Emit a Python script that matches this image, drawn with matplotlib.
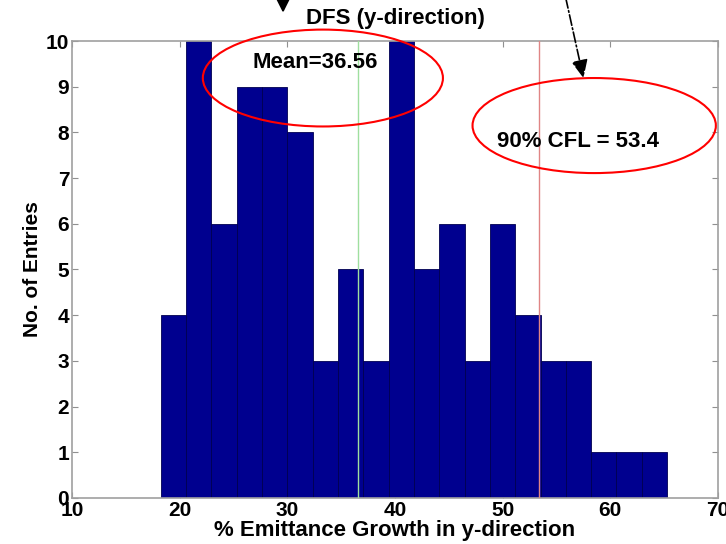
import matplotlib.pyplot as plt
import numpy as np
from matplotlib.patches import Ellipse

plt.rcParams['font.family'] = ['Liberation Sans', 'DejaVu Sans']
plt.rcParams['font.weight'] = 'bold'

# histogram data (20 bins between min and max of the sample)
x_min = 18.24
x_max = 65.27
counts = [4, 10, 6, 9, 9, 8, 3, 5, 3, 10, 5, 6, 3, 6, 4, 3, 3, 1, 1, 1]
mean_val = 36.56
cfl_val = 53.4

edges = np.linspace(x_min, x_max, len(counts) + 1)

fig = plt.figure(figsize=(7.26, 5.44), dpi=100)
ax = fig.add_axes([0.0992, 0.0846, 0.8898, 0.840])

ax.bar(edges[:-1], counts, width=np.diff(edges), align='edge',
       color='#00008f', edgecolor='#000050', linewidth=0.6, zorder=2)
ax.axvline(mean_val, color='#9fdf9f', linewidth=1.0, zorder=3)
ax.axvline(cfl_val, color='#e08585', linewidth=1.0, zorder=3)

ax.set_xlim(10, 70)
ax.set_ylim(0, 10)
ax.set_xticks(np.arange(10, 71, 10))
ax.set_yticks(np.arange(0, 11, 1))
ax.tick_params(direction='in', top=True, right=True, length=4, color='#909090',
               labelsize=15, pad=2)
for s in ax.spines.values():
    s.set_color('#a0a0a0')
    s.set_linewidth(1.2)

ax.set_title('DFS (y-direction)', fontsize=16, fontweight='bold', pad=12)
ax.set_xlabel('% Emittance Growth in y-direction', fontsize=16, fontweight='bold', labelpad=0)
ax.set_ylabel('No. of Entries', fontsize=15, fontweight='bold', labelpad=3)

# annotations
ax.text(32.6, 9.54, 'Mean=36.56', fontsize=16, fontweight='bold', ha='center', va='center', zorder=5)
ax.text(57.0, 7.8, '90% CFL = 53.4', fontsize=16, fontweight='bold', ha='center', va='center', zorder=5)
ax.add_patch(Ellipse((33.3, 9.19), 22.3, 2.12, fill=False, edgecolor='red', linewidth=1.5,
                     clip_on=False, zorder=6))
ax.add_patch(Ellipse((58.5, 8.15), 22.6, 2.08, fill=False, edgecolor='red', linewidth=1.5,
                     clip_on=False, zorder=6))

ax.annotate('', xy=(29.6, 10.62), xytext=(29.6, 11.25), annotation_clip=False,
            arrowprops=dict(arrowstyle='-|>,head_length=1.0,head_width=0.5', color='k', lw=1.5,
                            shrinkA=0, shrinkB=0))
ax.annotate('', xy=(57.5, 9.19), xytext=(55.85, 10.95), annotation_clip=False,
            arrowprops=dict(arrowstyle='-|>,head_length=1.1,head_width=0.5', color='k', lw=1.2,
                            linestyle='-.', shrinkA=0, shrinkB=0))

fig.savefig('out.png', dpi=100)
